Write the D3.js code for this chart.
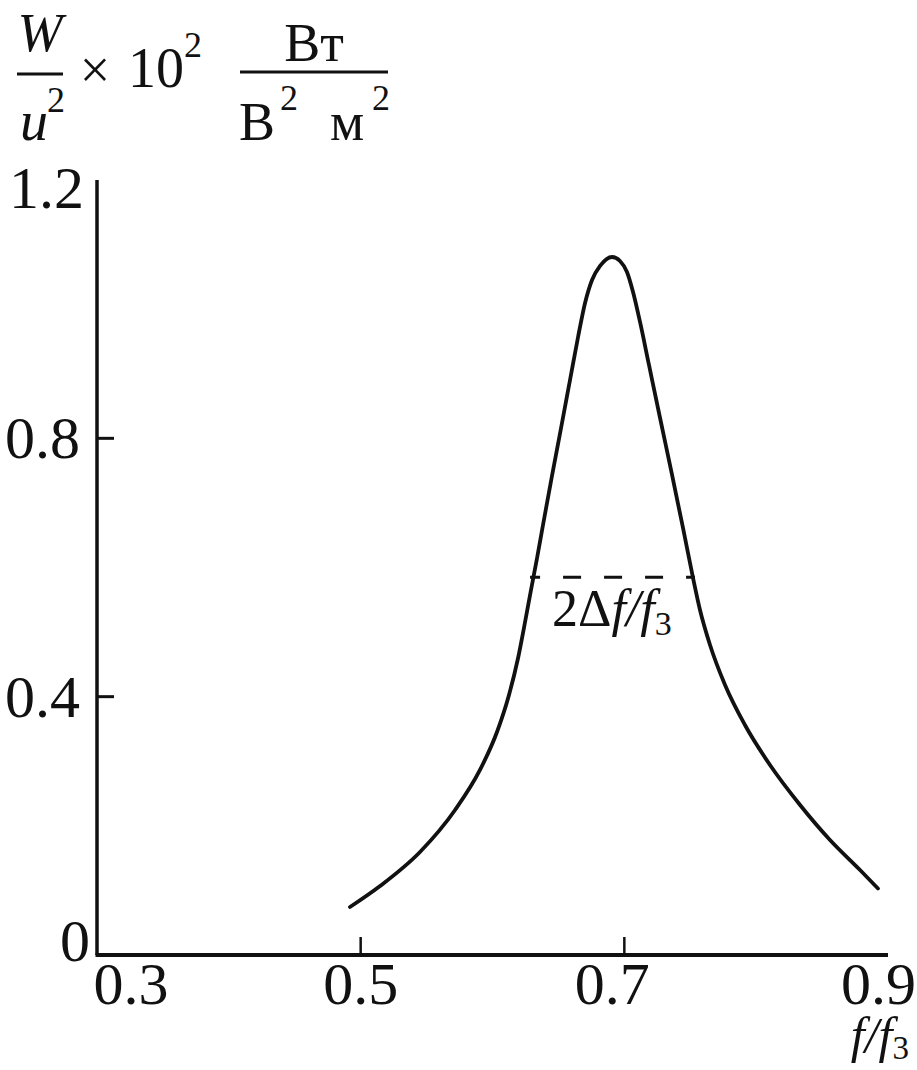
<!DOCTYPE html>
<html>
<head>
<meta charset="utf-8">
<script src="https://cdn.jsdelivr.net/npm/d3@7/dist/d3.min.js"></script>
<style>
  html, body { margin: 0; padding: 0; background: #ffffff; }
  svg { display: block; }
  text { font-family: "Liberation Serif", "Times New Roman", serif; fill: #111; }
</style>
</head>
<body>
<svg id="chart" width="917" height="1070"></svg>
<script>
// ---- data ----
const xTicks = [0.3, 0.5, 0.7, 0.9];
const yTicks = [0, 0.4, 0.8, 1.2];
const xTickLabels = ["0.3", "0.5", "0.7", "0.9"];
const yTickLabels = ["0", "0.4", "0.8", "1.2"];
const freqRatio = [0.4919, 0.5147, 0.5450, 0.5716, 0.5905, 0.6034, 0.6125, 0.6194, 0.6247, 0.6292,
                   0.6338, 0.6383, 0.6451, 0.6520, 0.6588, 0.6649, 0.6702, 0.6755, 0.6816, 0.6907,
                   0.6967, 0.7020, 0.7066, 0.7119, 0.7187, 0.7271, 0.7362, 0.7445, 0.7521, 0.7574,
                   0.7650, 0.7764, 0.7915, 0.8105, 0.8333, 0.8560, 0.8788, 0.8924];
const powerValues = [0.0743, 0.1068, 0.1595, 0.2245, 0.2865, 0.3453, 0.4026, 0.4599, 0.5156, 0.5652,
                     0.6147, 0.6658, 0.7417, 0.8160, 0.8903, 0.9569, 1.0096, 1.0452, 1.0669, 1.0808,
                     1.0746, 1.0576, 1.0266, 0.9802, 0.9136, 0.8315, 0.7433, 0.6612, 0.5838, 0.5342,
                     0.4800, 0.4181, 0.3561, 0.2942, 0.2323, 0.1781, 0.1316, 0.1030];
const bandLevel = 0.585;
const bandEdges = [0.6285, 0.7536];

// ---- layout ----
const svg = d3.select("#chart");
const x = d3.scaleLinear().domain([0.3, 0.9]).range([97, 888]);
const y = d3.scaleLinear().domain([0, 1.2]).range([955, 180]);

// axes lines
svg.append("line").attr("x1", x(0.3)).attr("x2", x(0.3)).attr("y1", y(0)).attr("y2", y(1.2))
  .attr("stroke", "#111").attr("stroke-width", 3.5);
svg.append("line").attr("x1", x(0.3) - 1.5).attr("x2", x(0.9)).attr("y1", y(0)).attr("y2", y(0))
  .attr("stroke", "#111").attr("stroke-width", 4);

// y ticks (inward) — only interior ones
svg.selectAll(".yt").data(yTicks.filter(d => d > 0 && d < 1.2)).enter().append("line")
  .attr("x1", x(0.3)).attr("x2", x(0.3) + 17)
  .attr("y1", d => y(d)).attr("y2", d => y(d))
  .attr("stroke", "#111").attr("stroke-width", 3);
// x ticks (inward)
svg.selectAll(".xt").data(xTicks.filter(d => d > 0.3 && d < 0.9)).enter().append("line")
  .attr("x1", d => x(d)).attr("x2", d => x(d))
  .attr("y1", y(0)).attr("y2", y(0) - 18)
  .attr("stroke", "#111").attr("stroke-width", 2.5);

// y tick labels
svg.selectAll(".yl").data(yTicks).enter().append("text")
  .attr("x", d => d === 0 ? 90 : d === 1.2 ? 84 : 80)
  .attr("y", d => y(d) + (d === 0 ? -14 : d === 1.2 ? 8 : 0))
  .attr("text-anchor", "end")
  .attr("dominant-baseline", "central")
  .attr("font-size", 60)
  .text((d, i) => yTickLabels[i]);

// x tick labels
svg.selectAll(".xl").data(xTicks).enter().append("text")
  .attr("x", d => d === 0.9 ? 916 : x(d) + (d === 0.3 ? 34 : d === 0.7 ? -12 : 0))
  .attr("y", 1004)
  .attr("text-anchor", d => d === 0.9 ? "end" : "middle")
  .attr("font-size", 60)
  .text((d, i) => xTickLabels[i]);

// x axis title f/f3
const xt = svg.append("text").attr("x", 909).attr("y", 1052)
  .attr("text-anchor", "end").attr("font-size", 50).attr("font-style", "italic");
xt.append("tspan").text("f/f");
xt.append("tspan").attr("font-size", 33).attr("font-style", "normal").attr("dy", 7).text("3");

// y axis title
function t(txt, xx, yy, size, opts = {}) {
  const el = svg.append("text").attr("x", xx).attr("y", yy).attr("font-size", size)
    .attr("text-anchor", opts.anchor || "start").text(txt);
  if (opts.italic) el.attr("font-style", "italic");
  return el;
}
t("W", 40, 51, 54, {anchor: "middle", italic: true});
svg.append("line").attr("x1", 17).attr("x2", 63).attr("y1", 74).attr("y2", 74)
  .attr("stroke", "#111").attr("stroke-width", 3);
t("2", 56, 112, 36, {anchor: "middle"});
t("u", 34, 140, 56, {anchor: "middle", italic: true});
t("×", 95, 88, 54, {anchor: "middle"});
t("10", 128, 87, 56);
t("2", 184, 57, 36);
t("Вт", 314, 61, 54, {anchor: "middle"});
svg.append("line").attr("x1", 240).attr("x2", 388).attr("y1", 72).attr("y2", 72)
  .attr("stroke", "#111").attr("stroke-width", 3);
t("В", 239, 140, 54);
t("2", 280, 110, 36);
t("м", 330, 140, 54);
t("2", 372, 110, 36);

// curve
const pts = freqRatio.map((f, i) => [f, powerValues[i]]);
const line = d3.line().x(d => x(d[0])).y(d => y(d[1])).curve(d3.curveMonotoneX);
svg.append("path").datum(pts).attr("d", line)
  .attr("fill", "none").attr("stroke", "#111").attr("stroke-width", 3.8)
  .attr("stroke-linecap", "round").attr("stroke-linejoin", "round");

// bandwidth dashed line
svg.append("line")
  .attr("x1", x(bandEdges[0])).attr("x2", x(bandEdges[1]))
  .attr("y1", y(bandLevel)).attr("y2", y(bandLevel))
  .attr("stroke", "#111").attr("stroke-width", 3)
  .attr("stroke-dasharray", "18,23").attr("stroke-dashoffset", 8);

// band label 2Δf/f3
const bl = svg.append("text").attr("x", 552).attr("y", 626).attr("font-size", 52);
bl.append("tspan").text("2Δ");
bl.append("tspan").attr("font-style", "italic").text("f/f");
bl.append("tspan").attr("font-size", 34).attr("dy", 9).text("3");
</script>
</body>
</html>
